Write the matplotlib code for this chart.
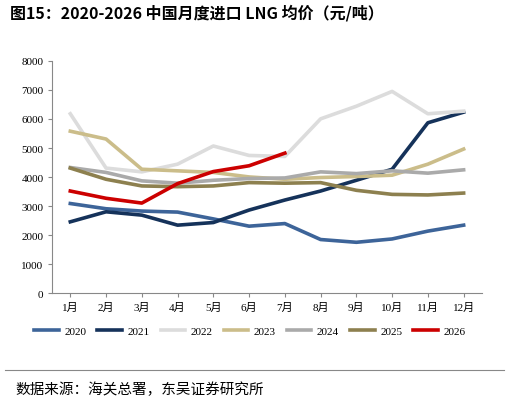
import matplotlib
matplotlib.use("Agg")
import matplotlib.pyplot as plt

months = ["1月","2月","3月","4月","5月","6月","7月","8月","9月","10月","11月","12月"]
s2020 = [3090,2910,2830,2795,2560,2310,2400,1850,1755,1870,2140,2345]
s2021 = [2460,2805,2690,2345,2435,2865,3210,3520,3890,4270,5870,6235]
s2022 = [6180,4310,4180,4445,5070,4745,4710,6005,6440,6950,6180,6270]
s2023 = [5580,5310,4270,4215,4160,4005,3925,3985,4020,4065,4445,4965]
s2024 = [4330,4160,3870,3790,3890,3950,3970,4180,4120,4215,4135,4250]
s2025 = [4310,3925,3695,3670,3695,3810,3790,3810,3545,3405,3385,3450]
s2026 = [3520,3270,3105,3775,4190,4390,4825]
labels = ["2020","2021","2022","2023","2024","2025","2026"]
colors = ["#3d6499","#15325a","#dcdcdc","#cbbd8a","#aaaaaa","#8d804f","#cc0000"]

plt.rcParams['font.family'] = ['Liberation Serif', 'Noto Sans CJK SC']
fig = plt.figure(figsize=(5.09,4.02), dpi=100)
ax = fig.add_axes([0.103, 0.268, 0.843, 0.578])
for s, lab, c in zip([s2020,s2021,s2022,s2023,s2024,s2025,s2026], labels, colors):
    ax.plot(months[:len(s)], s, color=c, lw=2.6, label=lab)
ax.set_ylim(0,8000)
ax.set_xlim(-0.5,11.5)
ax.set_yticks(range(0,8001,1000))
ax.tick_params(labelsize=8, length=3, color='#888888')
for sp in ['top','right']:
    ax.spines[sp].set_visible(False)
for sp in ['left','bottom']:
    ax.spines[sp].set_color('#888888')
ax.legend(loc='upper center', bbox_to_anchor=(0.46,-0.1), ncol=7, frameon=False,
          fontsize=8, handlelength=2.2, columnspacing=1.0, handletextpad=0.5)
fig.text(0.02, 0.955, "图15：2020-2026 中国月度进口 LNG 均价（元/吨）", fontsize=11.5, fontweight='bold',
         family=['Noto Sans CJK SC'])
fig.add_artist(plt.Line2D([0.01,0.99],[0.077,0.077], color='#888888', lw=0.8))
fig.text(0.03, 0.02, "数据来源：海关总署，东吴证券研究所", fontsize=10.5, family=['Noto Sans CJK SC'])
fig.savefig("out.png", dpi=100)
